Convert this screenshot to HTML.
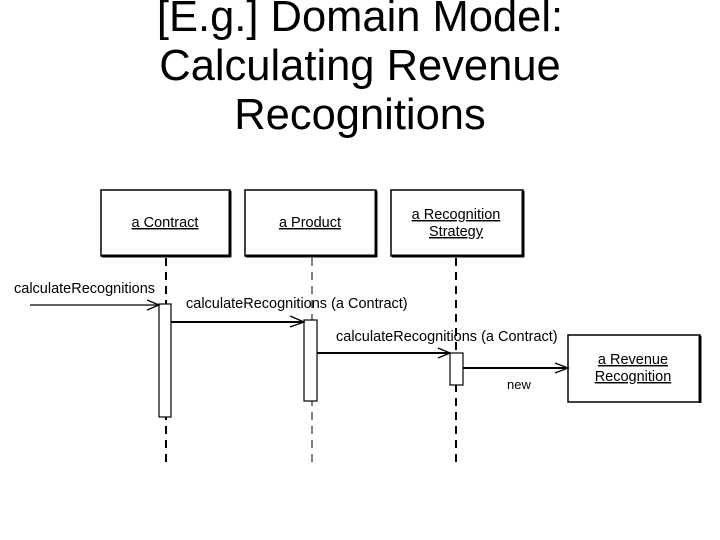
<!DOCTYPE html>
<html><head><style>
body{margin:0;background:#fff;width:720px;height:540px;overflow:hidden;font-family:"Liberation Sans",sans-serif}
.t{position:absolute;left:0;width:720px;text-align:center;font-size:43.5px;line-height:49px;top:-7px;color:#000}
</style></head><body>
<div class="t">[E.g.] Domain Model:<br>Calculating Revenue<br>Recognitions</div>
<svg width="720" height="540" style="position:absolute;left:0;top:0" font-family="Liberation Sans, sans-serif" font-size="14.5">
<g fill="#fff" stroke="#000" stroke-width="1.5">
<rect x="101" y="190" width="129" height="66"/>
<rect x="245" y="190" width="131" height="66"/>
<rect x="391" y="190" width="132" height="66"/>
<rect x="568" y="335" width="132" height="67"/>
</g>
<g stroke="#000" stroke-width="1.5">
<line x1="230" y1="191" x2="230" y2="257" stroke-width="3"/>
<line x1="102" y1="256" x2="231" y2="256" stroke-width="3"/>
<line x1="376" y1="191" x2="376" y2="257" stroke-width="3"/>
<line x1="246" y1="256" x2="377" y2="256" stroke-width="3"/>
<line x1="523" y1="191" x2="523" y2="257" stroke-width="3"/>
<line x1="392" y1="256" x2="524" y2="256" stroke-width="3"/>
<line x1="700" y1="336" x2="700" y2="403" stroke-width="3"/>
</g>
<g stroke="#000" stroke-dasharray="8,6">
<line x1="166" y1="258" x2="166" y2="466" stroke-width="2"/>
<line x1="312" y1="258" x2="312" y2="466" stroke-width="1"/>
<line x1="456" y1="258" x2="456" y2="466" stroke-width="2"/>
</g>
<g fill="#fff" stroke="#000" stroke-width="1.2">
<rect x="159" y="304" width="12" height="113"/>
<rect x="304" y="320" width="13" height="81"/>
<rect x="450" y="353" width="13" height="32"/>
</g>
<g stroke="#000" fill="none" stroke-width="1.3">
<line x1="30" y1="305" x2="159" y2="305"/><polyline points="147,300 159,305 147,310"/>
<line x1="171" y1="322" x2="304" y2="322" stroke-width="2"/><polyline points="290,316 304,322 290,327"/>
<line x1="317" y1="353" x2="450" y2="353" stroke-width="2"/><polyline points="438,348 450,353 438,358"/>
<line x1="463" y1="368" x2="568" y2="368" stroke-width="2"/><polyline points="555,363 568,368 555,373"/>
</g>
<g fill="#000" text-decoration="underline">
<text x="165" y="227" text-anchor="middle">a Contract</text>
<text x="310" y="227" text-anchor="middle">a Product</text>
<text x="456" y="219" text-anchor="middle">a Recognition</text>
<text x="456" y="236" text-anchor="middle">Strategy</text>
<text x="633" y="364" text-anchor="middle">a Revenue</text>
<text x="633" y="381" text-anchor="middle">Recognition</text>
</g>
<g fill="#000">
<text x="14" y="293">calculateRecognitions</text>
<text x="186" y="308">calculateRecognitions (a Contract)</text>
<text x="336" y="341">calculateRecognitions (a Contract)</text>
<text x="507" y="389" font-size="13">new</text>
</g>
</svg>
</body></html>
